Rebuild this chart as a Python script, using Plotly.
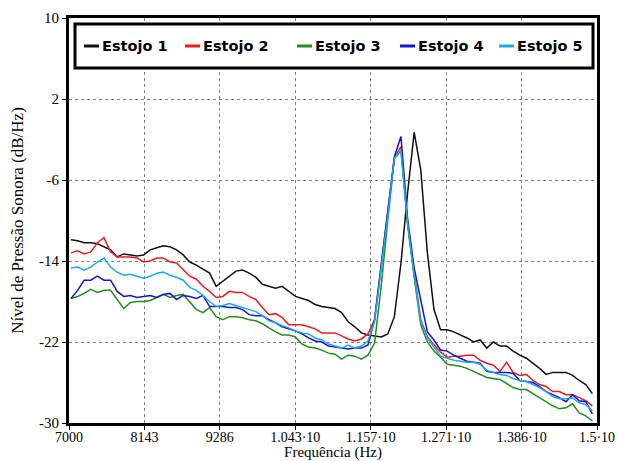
import plotly.graph_objects as go

# ---------------- data ----------------
freq = list(range(7030, 15000, 100))  # 80 sample frequencies (Hz)

estojo1 = [-11.9, -12.0, -12.2, -12.2, -12.3, -12.6, -12.9, -13.6, -13.3, -13.4,
           -13.5, -13.4, -12.9, -12.7, -12.5, -12.6, -12.9, -13.4, -14.1, -14.4,
           -14.8, -15.2, -16.5, -16.0, -15.5, -15.0, -14.9, -15.2, -15.6, -16.3,
           -16.5, -16.7, -16.5, -17.0, -17.5, -17.7, -17.9, -18.3, -18.5, -18.6,
           -18.7, -19.1, -20.0, -20.5, -21.1, -21.3, -21.4, -21.5, -21.2, -19.5,
           -14.2, -7.3, -1.3, -5.0, -13.2, -18.8, -20.8, -20.8, -21.0, -21.3,
           -21.6, -22.0, -21.8, -22.6, -22.0, -22.4, -22.4, -22.9, -23.3, -23.6,
           -24.1, -24.6, -25.2, -25.0, -25.0, -25.0, -25.3, -25.8, -26.2, -27.1]

estojo2 = [-13.2, -13.0, -13.3, -13.1, -12.2, -11.7, -13.1, -13.6, -13.6, -13.6,
           -13.7, -14.1, -14.0, -13.7, -13.7, -14.1, -14.2, -14.9, -15.5, -15.8,
           -16.5, -17.0, -17.6, -17.5, -17.0, -17.1, -17.1, -17.5, -17.8, -18.6,
           -19.3, -19.2, -19.6, -20.3, -20.3, -20.3, -20.5, -20.7, -21.1, -21.1,
           -21.1, -21.4, -21.7, -21.9, -21.7, -21.2, -19.8, -14.5, -9.3, -3.8,
           -2.7, -10.2, -15.2, -19.8, -21.5, -22.2, -23.0, -23.5, -23.4, -23.4,
           -23.3, -23.3, -23.8, -24.1, -24.3, -24.9, -24.0, -25.0, -25.3, -25.2,
           -25.8, -26.2, -26.4, -26.9, -26.9, -27.2, -27.2, -27.5, -27.8, -28.3]

estojo3 = [-17.7, -17.5, -17.2, -16.8, -17.1, -16.9, -16.9, -17.8, -18.7, -18.1,
           -18.0, -18.0, -17.9, -17.6, -17.3, -17.6, -17.4, -17.3, -18.1, -18.8,
           -19.1, -18.6, -19.5, -19.8, -19.5, -19.5, -19.6, -19.8, -19.9, -20.2,
           -20.6, -21.0, -21.3, -21.3, -21.5, -22.2, -22.5, -22.6, -22.8, -23.1,
           -23.2, -23.7, -23.3, -23.4, -23.7, -23.3, -22.1, -16.5, -10.0, -3.9,
           -3.1, -10.4, -15.6, -20.3, -22.0, -22.9, -23.5, -24.2, -24.3, -24.4,
           -24.6, -24.9, -25.2, -25.5, -25.6, -25.7, -26.1, -26.5, -26.7, -26.7,
           -27.1, -27.5, -27.9, -28.3, -28.6, -28.5, -28.1, -29.0, -29.3, -29.8]

estojo4 = [-17.7, -16.9, -15.9, -15.9, -15.5, -15.9, -15.9, -17.0, -17.5, -17.4,
           -17.6, -17.5, -17.4, -17.6, -17.3, -17.2, -17.8, -17.4, -17.5, -17.7,
           -17.4, -18.5, -18.5, -18.5, -18.6, -18.6, -18.8, -19.3, -19.4, -19.4,
           -19.8, -20.1, -20.5, -20.7, -20.9, -21.2, -21.6, -21.9, -22.0, -22.4,
           -22.5, -22.6, -22.7, -22.6, -22.6, -22.3, -19.8, -14.4, -9.2, -3.7,
           -1.7, -9.8, -14.7, -18.0, -21.0, -21.8, -22.8, -22.9, -23.3, -23.6,
           -23.9, -24.0, -24.1, -24.9, -25.0, -25.0, -25.0, -25.1, -25.8, -25.9,
           -26.0, -26.4, -26.9, -27.2, -27.5, -27.9, -27.2, -27.8, -27.9, -29.1]

estojo5 = [-14.7, -14.6, -14.9, -14.6, -14.1, -13.7, -14.6, -15.1, -15.4, -15.3,
           -15.5, -15.7, -15.5, -15.2, -15.1, -15.4, -15.6, -15.9, -16.6, -16.9,
           -17.4, -18.0, -18.5, -18.4, -18.2, -18.4, -18.6, -18.8, -19.0, -19.4,
           -19.9, -20.1, -20.4, -20.6, -20.9, -21.1, -21.2, -21.6, -21.8, -22.2,
           -22.4, -22.6, -22.3, -22.6, -22.4, -21.9, -20.0, -14.8, -9.5, -3.8,
           -3.1, -10.2, -15.4, -20.0, -21.6, -22.5, -23.4, -23.6, -23.8, -23.9,
           -24.0, -24.0, -24.2, -24.8, -25.0, -25.2, -25.3, -25.6, -25.8, -25.9,
           -26.2, -26.5, -26.9, -27.4, -27.6, -27.6, -27.5, -28.0, -28.2, -28.8]

series_names = ["Estojo 1", "Estojo 2", "Estojo 3", "Estojo 4", "Estojo 5"]
series_values = [estojo1, estojo2, estojo3, estojo4, estojo5]
series_colors = ["#111111", "#ee1c1c", "#1f8f1f", "#1414d2", "#1aa8ee"]

x_tickvals = [7000, 8142.857, 9285.714, 10428.571, 11571.429, 12714.286, 13857.143, 15000]
x_ticktext = ["7000", "8143", "9286", "1.043·10", "1.157·10", "1.271·10", "1.386·10", "1.5·10"]
y_tickvals = [-30, -22, -14, -6, 2, 10]
y_ticktext = ["-30", "-22", "-14", "-6", "2", "10"]

# ---------------- layout geometry ----------------
W, H = 618, 461
L, R, T, B = 69, 597, 18, 423          # plot area in window pixels


def px_x(p):
    return (p - L) / (R - L)


def px_y(p):
    return 1 - (p - T) / (B - T)


fig = go.Figure()
for name, vals, col in zip(series_names, series_values, series_colors):
    fig.add_trace(go.Scatter(x=freq, y=vals, mode="lines", name=name,
                             line=dict(color=col, width=1.5), showlegend=False))

serif = "Liberation Serif, Times New Roman, serif"

fig.update_layout(
    width=W, height=H,
    margin=dict(l=L, r=W - R, t=T, b=H - B),
    paper_bgcolor="white", plot_bgcolor="white",
    font=dict(family=serif, size=15, color="black"),
    showlegend=False,
)
fig.update_xaxes(
    range=[7000, 15000], tickvals=x_tickvals, ticktext=x_ticktext,
    tickfont=dict(family=serif, size=14),
    showline=True, linewidth=3, linecolor="black", mirror=True,
    ticks="outside", ticklen=4, tickwidth=1, tickcolor="black",
    ticklabelstandoff=-5,
    showgrid=True, gridcolor="#808080", gridwidth=1, griddash="dot",
    zeroline=False, automargin=False,
    title=dict(text="Frequência (Hz)", standoff=9, font=dict(family=serif, size=15)),
)
fig.update_yaxes(
    range=[-30, 10], tickvals=y_tickvals, ticktext=y_ticktext,
    showline=True, linewidth=3, linecolor="black", mirror=True,
    ticks="outside", ticklen=4, tickwidth=1, tickcolor="black",
    showgrid=True, gridcolor="#808080", gridwidth=1, griddash="dot",
    zeroline=False, automargin=False,
    title=dict(text="Nível de Pressão Sonora (dB/Hz)", standoff=12, font=dict(family=serif, size=17)),
)

# ---------------- legend box (drawn manually to match the reference) ----------------
fig.add_shape(type="rect", xref="paper", yref="paper",
              x0=px_x(75), x1=px_x(593), y0=px_y(68), y1=px_y(24),
              line=dict(color="black", width=3), fillcolor="white", layer="above")
legend_text_px = [102, 203, 315, 418, 517]
legend_y = px_y(46)
for name, col, tx in zip(series_names, series_colors, legend_text_px):
    fig.add_shape(type="line", xref="paper", yref="paper",
                  x0=px_x(tx - 18), x1=px_x(tx - 3), y0=legend_y, y1=legend_y,
                  line=dict(color=col, width=3), layer="above")
    fig.add_annotation(xref="paper", yref="paper", x=px_x(tx - 2), y=legend_y,
                       xanchor="left", yanchor="middle", showarrow=False, text=name,
                       font=dict(family="DejaVu Sans", size=14.5, color="black", weight="bold"))

# remove the default 8 px page margin so the figure fills the window exactly
fig.write_html("out.html",
               config={"displayModeBar": False},
               post_script="document.body.style.margin='0';document.body.style.overflow='hidden';")
